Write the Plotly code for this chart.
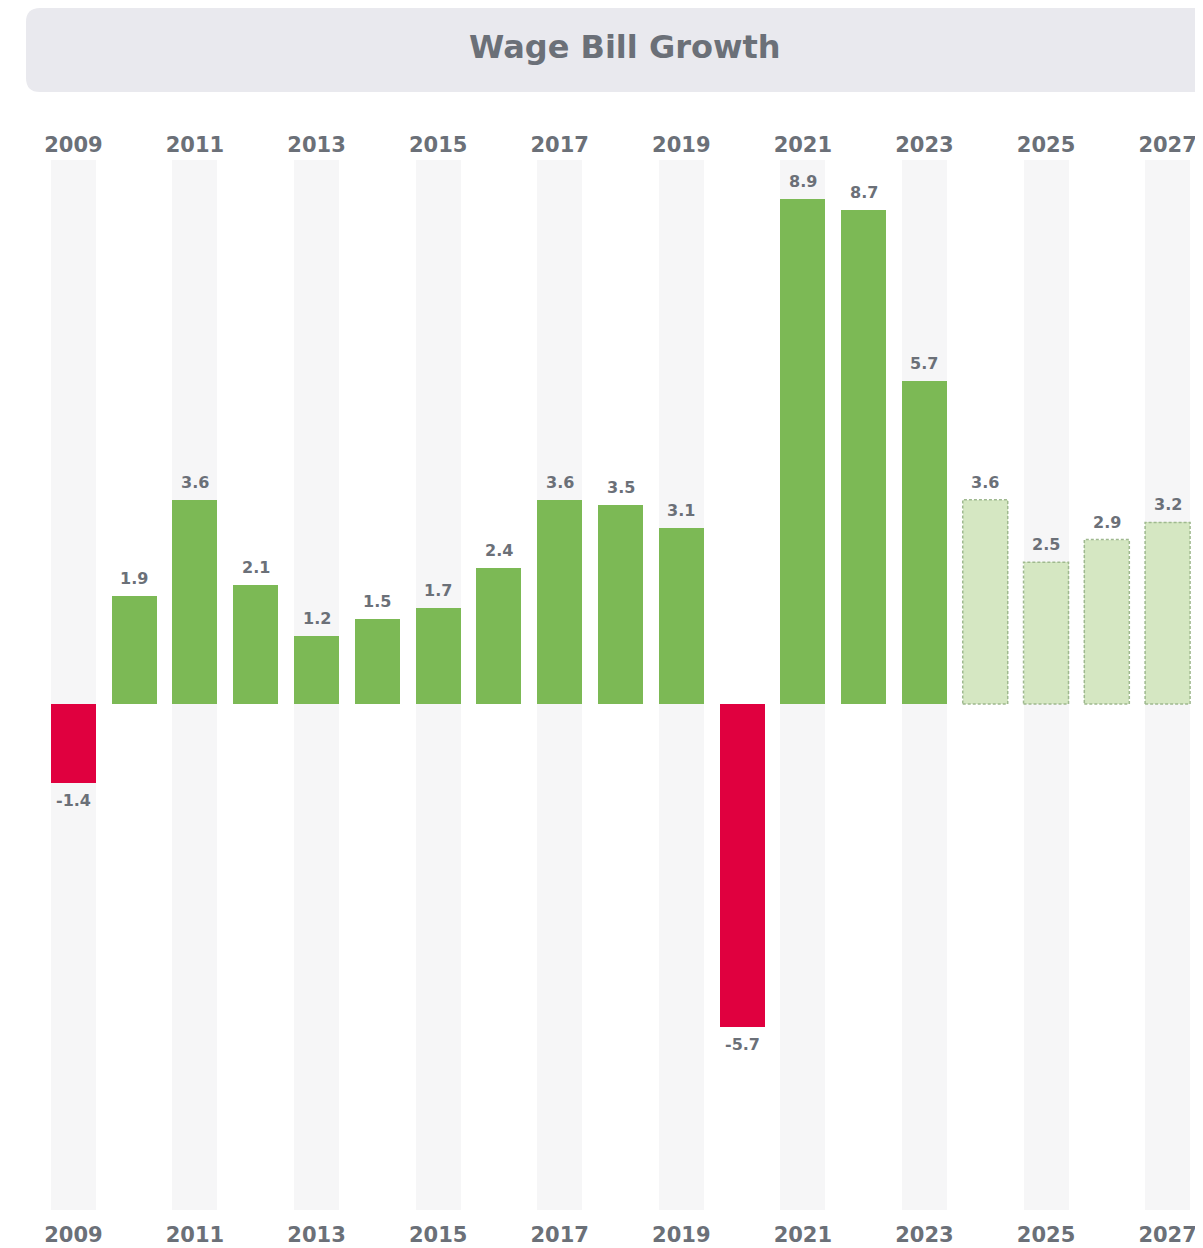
import plotly.graph_objects as go

years = list(range(2009, 2028))
values = [-1.4, 1.9, 3.6, 2.1, 1.2, 1.5, 1.7, 2.4, 3.6, 3.5, 3.1, -5.7, 8.9, 8.7, 5.7, 3.6, 2.5, 2.9, 3.2]
forecast_from = 2024
tick_years = list(range(2009, 2028, 2))

GREEN = "#7cb955"
RED = "#e0003f"
FC_FILL = "#d5e7c2"
FC_LINE = "#9fb98f"
BAND = "#f6f6f7"
TXT = "#6b7078"
FONT = "DejaVu Sans"

Y_MIN, Y_MAX = -8.92, 9.59
BW = 0.74

W, H = 1195, 1240
ML, MR, MT, MB = 35, 5, 152, 38
pw, ph = W - ML - MR, H - MT - MB

fig = go.Figure()

# background bands on odd years
fig.add_trace(go.Bar(
    x=tick_years, y=[Y_MAX - Y_MIN] * len(tick_years), base=[Y_MIN] * len(tick_years),
    width=BW, marker=dict(color=BAND, line=dict(width=0)), hoverinfo="skip", showlegend=False))

actual_x = [y for y in years if y < forecast_from]
actual_v = [v for y, v in zip(years, values) if y < forecast_from]
fc_x = [y for y in years if y >= forecast_from]
fc_v = [v for y, v in zip(years, values) if y >= forecast_from]

fig.add_trace(go.Bar(
    x=actual_x, y=actual_v, width=BW,
    marker=dict(color=[GREEN if v >= 0 else RED for v in actual_v], line=dict(width=0)),
    showlegend=False))
fig.add_trace(go.Bar(
    x=fc_x, y=fc_v, width=BW,
    marker=dict(color=FC_FILL, line=dict(width=0)), showlegend=False))

# dummy trace for top axis
fig.add_trace(go.Scatter(x=[years[0]], y=[0], xaxis="x2", mode="markers",
                         marker=dict(opacity=0), hoverinfo="skip", showlegend=False))

shapes = []
for x, v in zip(fc_x, fc_v):
    shapes.append(dict(type="rect", xref="x", yref="y", x0=x - BW / 2, x1=x + BW / 2, y0=0, y1=v,
                       line=dict(color=FC_LINE, width=1.5, dash="3px,2px"), fillcolor="rgba(0,0,0,0)"))


def px2paper_x(px):
    return (px - ML) / pw


def px2paper_y(py):
    return (H - MB - py) / ph


# rounded title box
x0, x1, y0, y1, r = 18, 1225, 0, 84, 14
path = (f"M {px2paper_x(x0 + r)},{px2paper_y(y0)} "
        f"L {px2paper_x(x1 - r)},{px2paper_y(y0)} "
        f"Q {px2paper_x(x1)},{px2paper_y(y0)} {px2paper_x(x1)},{px2paper_y(y0 + r)} "
        f"L {px2paper_x(x1)},{px2paper_y(y1 - r)} "
        f"Q {px2paper_x(x1)},{px2paper_y(y1)} {px2paper_x(x1 - r)},{px2paper_y(y1)} "
        f"L {px2paper_x(x0 + r)},{px2paper_y(y1)} "
        f"Q {px2paper_x(x0)},{px2paper_y(y1)} {px2paper_x(x0)},{px2paper_y(y1 - r)} "
        f"L {px2paper_x(x0)},{px2paper_y(y0 + r)} "
        f"Q {px2paper_x(x0)},{px2paper_y(y0)} {px2paper_x(x0 + r)},{px2paper_y(y0)} Z")
shapes.append(dict(type="path", xref="paper", yref="paper", path=path,
                   fillcolor="#e9e9ee", line=dict(width=0), layer="below"))

annotations = []
for x, v in zip(years, values):
    annotations.append(dict(
        x=x, y=v, xref="x", yref="y", text=f"<b>{v:.1f}</b>", showarrow=False,
        yanchor="bottom" if v >= 0 else "top", yshift=6 if v >= 0 else -6,
        font=dict(family=FONT, size=16, color=TXT)))
annotations.append(dict(
    x=px2paper_x(617), y=px2paper_y(39), xref="paper", yref="paper",
    text="<b>Wage Bill Growth</b>", showarrow=False, xanchor="center", yanchor="middle",
    font=dict(family=FONT, size=32, color=TXT)))

axis_common = dict(range=[years[0] - 0.5, years[-1] + 0.5], tickvals=tick_years,
                   ticktext=[f"<b>{t}</b>" for t in tick_years],
                   showgrid=False, zeroline=False, showline=False, ticks="",
                   automargin=False,
                   tickfont=dict(family=FONT, size=21, color=TXT))

fig.update_layout(
    width=W, height=H, margin=dict(l=ML, r=MR, t=MT, b=MB),
    paper_bgcolor="white", plot_bgcolor="white",
    barmode="overlay", bargap=0,
    xaxis=dict(**axis_common, side="bottom", ticklabelstandoff=10),
    xaxis2=dict(**axis_common, side="top", overlaying="x", matches="x", ticklabelstandoff=3),
    yaxis=dict(range=[Y_MIN, Y_MAX], visible=False, showgrid=False, zeroline=False, automargin=False),
    shapes=shapes, annotations=annotations,
)

fig.write_html("out.html")
